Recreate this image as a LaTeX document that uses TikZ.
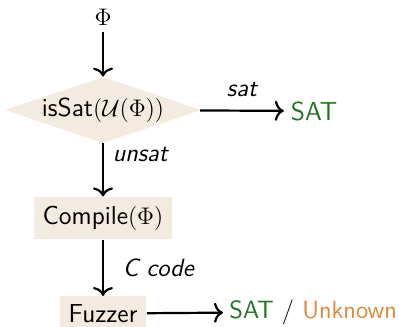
\documentclass[tikz,border=0pt]{standalone}
\usepackage{amsmath,amssymb}
\usepackage{tikz}
\usepackage{xcolor}
\usetikzlibrary{shapes.geometric,arrows.meta}
\definecolor{boxbg}{RGB}{243,235,224}
\definecolor{satgreen}{RGB}{30,115,30}
\definecolor{unkorange}{RGB}{218,138,58}
\begin{document}
\begin{tikzpicture}[x=0.5pt,y=-0.5pt,every node/.style={font=\sffamily\fontsize{13}{15}\selectfont},
  decision/.style={diamond,fill=boxbg,inner sep=0pt,minimum width=96pt,minimum height=33pt,aspect=3},
  process/.style={rectangle,fill=boxbg,inner sep=4.5pt},
  flow/.style={-{To[length=4.5pt,width=10pt]},line width=1.1pt},
  lbl/.style={font=\sffamily\fontsize{12.5}{15}\selectfont\itshape}]
\useasboundingbox (0,0) rectangle (399,326);
\node (phi) at (103,17) {$\Phi$};
\node[decision] (issat) at (103,110) {isSat$(\mathcal{U}(\Phi))$};
\node[text=satgreen] (satout) at (314,111) {SAT};
\node[process] (compile) at (103,218) {Compile$(\Phi)$};
\node[process,anchor=north,inner ysep=4pt] (fuzz) at (103,296) {Fuzzer};
\node[anchor=west,inner xsep=3pt,font=\sffamily\fontsize{12.5}{15}\selectfont] (result) at (223,312) {\textcolor{satgreen}{SAT} / \textcolor{unkorange}{Unknown}};
\draw[flow] (phi) -- (issat);
\draw[flow] (issat) -- node[lbl,above=3pt] {sat} (satout);
\draw[flow] (issat) -- node[lbl,pos=0.2,right=1pt] {unsat} (compile);
\draw[flow] (compile) -- node[lbl,right=6pt] {C code} (fuzz);
\draw[flow] (fuzz) -- (result);
\end{tikzpicture}
\end{document}
